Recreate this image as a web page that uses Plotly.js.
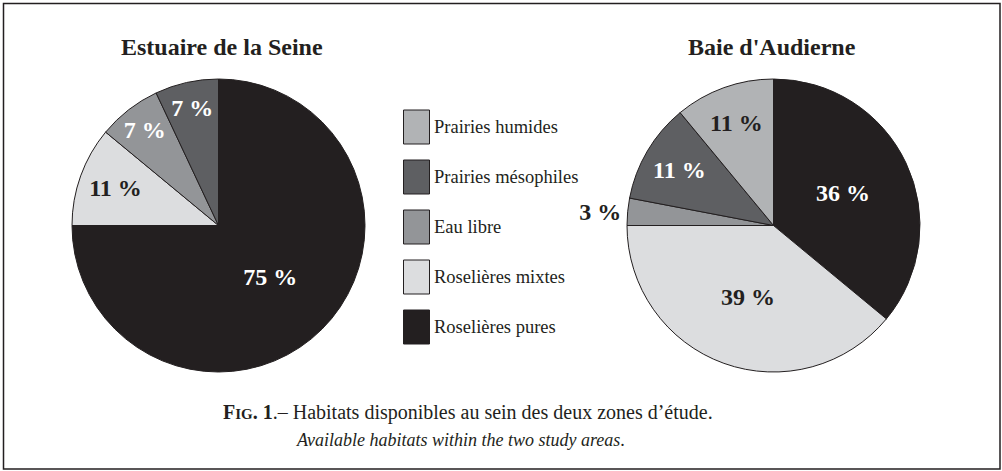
<!DOCTYPE html>
<html>
<head>
<meta charset="utf-8">
<script src="https://cdn.plot.ly/plotly-3.0.1.min.js"></script>
<style>html,body{margin:0;padding:0;background:#fff;}#chart{width:1002px;height:471px;}</style>
</head>
<body>
<div id="chart"></div>
<script>
// Data (pie order, clockwise from 12 o'clock)
var categories = ['Roselières pures', 'Roselières mixtes', 'Eau libre', 'Prairies mésophiles', 'Prairies humides'];
var seineValues = [75, 11, 7, 7, 0];
var audierneValues = [36, 39, 3, 11, 11];
var pieTitles = ['Estuaire de la Seine', "Baie d'Audierne"];
var legendOrder = ['Prairies humides', 'Prairies mésophiles', 'Eau libre', 'Roselières mixtes', 'Roselières pures'];

var colors = {
  'Roselières pures': '#231f20',
  'Roselières mixtes': '#dcdddf',
  'Eau libre': '#939598',
  'Prairies mésophiles': '#5e5f62',
  'Prairies humides': '#b1b3b5'
};
var textColors = {
  'Roselières pures': '#ffffff',
  'Roselières mixtes': '#231f20',
  'Eau libre': '#ffffff',
  'Prairies mésophiles': '#ffffff',
  'Prairies humides': '#231f20'
};

var W = 1002, H = 471;
var serif = 'Liberation Serif, Times New Roman, serif';

function pieTrace(values, domain, outsideIdx) {
  return {
    type: 'pie',
    labels: categories,
    values: values,
    sort: false,
    direction: 'clockwise',
    rotation: 0,
    domain: domain,
    marker: {colors: categories.map(function(c){return colors[c];}), line: {color: '#231f20', width: 1}},
    text: values.map(function(v){ return v > 0 ? v + ' %' : ''; }),
    textinfo: 'text',
    textposition: values.map(function(v, i){ return i === outsideIdx ? 'outside' : 'inside'; }),
    insidetextorientation: 'horizontal',
    textfont: {family: serif, size: 24, weight: 'bold', color: categories.map(function(c){return textColors[c];})},
    outsidetextfont: {family: serif, size: 24, weight: 'bold', color: '#231f20'},
    hoverinfo: 'skip',
    showlegend: false
  };
}

var data = [
  pieTrace(seineValues, {x: [72 / W, 365 / W], y: [1 - 373 / H, 1 - 78 / H]}, -1),
  pieTrace(audierneValues, {x: [627 / W, 920 / W], y: [1 - 373 / H, 1 - 78 / H]}, 2)
];

var shapes = [{
  type: 'rect', xref: 'paper', yref: 'paper',
  x0: 3.5 / W, x1: 1000 / W, y0: 1 - 469 / H, y1: 1 - 3.5 / H,
  line: {color: '#231f20', width: 1.5}, fillcolor: 'rgba(0,0,0,0)'
}];
var annotations = [];

// Titles
[222, 772].forEach(function(cx, i) {
  annotations.push({
    xref: 'paper', yref: 'paper', x: cx / W, y: 1 - 47 / H,
    text: '<b>' + pieTitles[i] + '</b>', showarrow: false,
    xanchor: 'center', yanchor: 'middle',
    font: {family: serif, size: 24, color: '#231f20'}
  });
});

// Legend (custom boxes)
legendOrder.forEach(function(cat, i) {
  var top = 110 + i * 50;
  shapes.push({
    type: 'rect', xref: 'paper', yref: 'paper',
    x0: 403.5 / W, x1: 429.5 / W, y0: 1 - (top + 34) / H, y1: 1 - top / H,
    fillcolor: colors[cat], line: {color: '#231f20', width: 1}
  });
  annotations.push({
    xref: 'paper', yref: 'paper', x: 432 / W, y: 1 - (top + 17) / H,
    text: cat, showarrow: false, xanchor: 'left', yanchor: 'middle',
    font: {family: serif, size: 18.5, color: '#231f20'}
  });
});

// Caption
annotations.push({
  xref: 'paper', yref: 'paper', x: 0.5 - 33 / W, y: 1 - 412 / H,
  text: '<b>F<span style="font-size:15px">IG</span>. 1</b>.– Habitats disponibles au sein des deux zones d’étude.',
  showarrow: false, xanchor: 'center', yanchor: 'middle',
  font: {family: serif, size: 20, color: '#231f20'}
});
annotations.push({
  xref: 'paper', yref: 'paper', x: 460 / W, y: 1 - 440 / H,
  text: '<i>Available habitats within the two study areas</i>.',
  showarrow: false, xanchor: 'center', yanchor: 'middle',
  font: {family: serif, size: 18, color: '#231f20'}
});

var layout = {
  width: W, height: H,
  margin: {l: 0, r: 0, t: 0, b: 0},
  paper_bgcolor: '#ffffff',
  showlegend: false,
  shapes: shapes,
  annotations: annotations
};

Plotly.newPlot('chart', data, layout, {displayModeBar: false, staticPlot: true});
</script>
</body>
</html>
